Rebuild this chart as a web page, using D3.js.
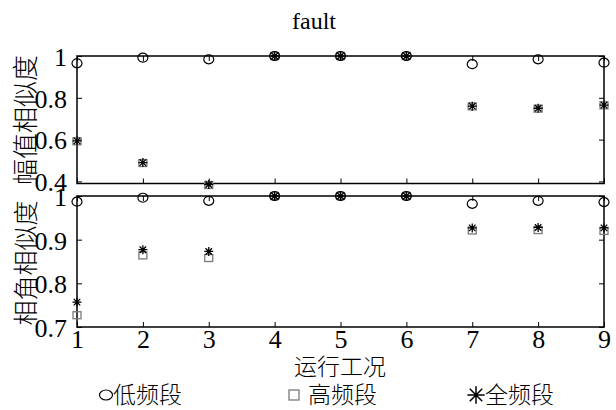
<!DOCTYPE html>
<html>
<head>
<meta charset="utf-8">
<script src="https://cdn.jsdelivr.net/npm/d3@7"></script>
<style>
  body { margin: 0; background: #fff; }
  svg text { fill: #000; }
  .serif { font-family: "Liberation Serif", "DejaVu Serif", serif !important; }
  .cjk { font-family: "Noto Sans CJK SC", sans-serif !important; font-weight: 300; }
</style>
</head>
<body>
<div id="chart"></div>
<script>
// data
const conditions = [1, 2, 3, 4, 5, 6, 7, 8, 9];
const ampLow  = [0.965, 0.992, 0.984, 1, 1, 1, 0.961, 0.984, 0.968];
const ampHigh = [0.592, 0.488, 0.383, 1, 1, 1, 0.759, 0.748, 0.764];
const ampFull = [0.594, 0.490, 0.385, 1, 1, 1, 0.760, 0.750, 0.765];
const phaseLow  = [0.987, 0.996, 0.989, 1, 1, 1, 0.982, 0.989, 0.986];
const phaseHigh = [0.727, 0.864, 0.858, 1, 1, 1, 0.921, 0.922, 0.920];
const phaseFull = [0.757, 0.877, 0.873, 1, 1, 1, 0.927, 0.928, 0.927];
const ampTicks = [0.4, 0.6, 0.8, 1];
const phaseTicks = [0.7, 0.8, 0.9, 1];
const seriesNames = ["低频段", "高频段", "全频段"];

const width = 616, height = 410;

const svg = d3.select("#chart").append("svg")
  .attr("width", width)
  .attr("height", height);

const x = d3.scaleLinear().domain([1, 9]).range([77, 604]);
const yAmp = d3.scaleLinear().domain([0.39, 1]).range([183.5, 56]);
const yPhase = d3.scaleLinear().domain([0.7, 1]).range([327, 196]);

// matlab style '*' : plus and cross
const asterisk = {
  draw(ctx, size) {
    const r = Math.sqrt(size) / 2, d = r * 0.72;
    ctx.moveTo(-r, 0); ctx.lineTo(r, 0);
    ctx.moveTo(0, -r); ctx.lineTo(0, r);
    ctx.moveTo(-d, -d); ctx.lineTo(d, d);
    ctx.moveTo(-d, d); ctx.lineTo(d, -d);
  }
};

function drawPanel(y, ticks, low, high, full, showX) {
  const g = svg.append("g");
  const [x0, x1] = x.range();
  const [yb, yt] = y.range();

  // ticks inward on every side
  g.append("g").attr("transform", `translate(${x0},0)`)
    .call(d3.axisLeft(y).tickValues(ticks).tickSize(-5).tickPadding(10)
      .tickFormat(d => d === 1 ? "1" : d3.format(".1f")(d)))
    .call(a => a.select(".domain").remove())
    .attr("font-family", null).attr("font-size", null)
    .selectAll("text").attr("class", "serif").style("font-size", "26px").attr("dy", "0.36em");
  g.append("g").attr("transform", `translate(${x1},0)`)
    .call(d3.axisRight(y).tickValues(ticks).tickSize(-5).tickFormat(""))
    .call(a => a.select(".domain").remove());
  g.append("g").attr("transform", `translate(0,${yt})`)
    .call(d3.axisTop(x).tickValues(conditions).tickSize(-5).tickFormat(""))
    .call(a => a.select(".domain").remove());
  const bx = g.append("g").attr("transform", `translate(0,${yb})`)
    .call(d3.axisBottom(x).tickValues(conditions).tickSize(-5).tickPadding(3)
      .tickFormat(showX ? d3.format("d") : ""))
    .call(a => a.select(".domain").remove())
    .attr("font-family", null).attr("font-size", null);
  bx.selectAll("text").attr("class", "serif").style("font-size", "26px");
  g.selectAll(".tick line").attr("stroke", "#000").attr("stroke-width", 1);
  g.selectAll(".tick text").attr("fill", "#000");

  g.append("rect")
    .attr("x", x0).attr("y", yt)
    .attr("width", x1 - x0).attr("height", yb - yt)
    .attr("fill", "none").attr("stroke", "#000").attr("stroke-width", 1.5);

  g.selectAll(".sq").data(high).enter().append("rect")
    .attr("x", (d, i) => x(conditions[i]) - 4)
    .attr("y", d => y(d) - 3.5)
    .attr("width", 8).attr("height", 7)
    .attr("fill", "none").attr("stroke", "#7a7a7a").attr("stroke-width", 1.3);

  g.selectAll(".st").data(full).enter().append("path")
    .attr("transform", (d, i) => `translate(${x(conditions[i])},${y(d)})`)
    .attr("d", d3.symbol().type(asterisk).size(81))
    .attr("fill", "none").attr("stroke", "#000").attr("stroke-width", 1.3);

  g.selectAll(".ci").data(low).enter().append("ellipse")
    .attr("cx", (d, i) => x(conditions[i]))
    .attr("cy", d => y(d))
    .attr("rx", 5).attr("ry", 4.5)
    .attr("fill", "none").attr("stroke", "#000").attr("stroke-width", 1.2);
}

drawPanel(yAmp, ampTicks, ampLow, ampHigh, ampFull, false);
drawPanel(yPhase, phaseTicks, phaseLow, phaseHigh, phaseFull, true);

// title
svg.append("text")
  .attr("class", "serif")
  .attr("x", 314).attr("y", 29)
  .attr("text-anchor", "middle")
  .style("font-size", "24px")
  .text("fault");

// y labels
svg.append("text")
  .attr("class", "cjk")
  .attr("transform", "translate(35,120) rotate(-90)")
  .attr("text-anchor", "middle")
  .style("font-size", "26px")
  .text("幅值相似度");
svg.append("text")
  .attr("class", "cjk")
  .attr("transform", "translate(35,263) rotate(-90)")
  .attr("text-anchor", "middle")
  .style("font-size", "25px")
  .text("相角相似度");

// x label
svg.append("text")
  .attr("class", "cjk")
  .attr("x", 340).attr("y", 375)
  .attr("text-anchor", "middle")
  .style("font-size", "23px")
  .text("运行工况");

// legend
const legendX = [113, 308, 485];
const legend = svg.append("g");
legend.selectAll("text").data(seriesNames).enter().append("text")
  .attr("class", "cjk")
  .attr("x", (d, i) => legendX[i]).attr("y", 403)
  .style("font-size", "23px")
  .text(d => d);
legend.append("ellipse")
  .attr("cx", legendX[0] - 7).attr("cy", 395)
  .attr("rx", 6.5).attr("ry", 5)
  .attr("fill", "none").attr("stroke", "#000").attr("stroke-width", 1.2);
legend.append("rect")
  .attr("x", legendX[1] - 19).attr("y", 390)
  .attr("width", 10).attr("height", 10)
  .attr("fill", "none").attr("stroke", "#7a7a7a").attr("stroke-width", 1.3);
legend.append("path")
  .attr("transform", `translate(${legendX[2] - 9},395)`)
  .attr("d", d3.symbol().type(asterisk).size(300))
  .attr("fill", "none").attr("stroke", "#000").attr("stroke-width", 1.5);
</script>
</body>
</html>
